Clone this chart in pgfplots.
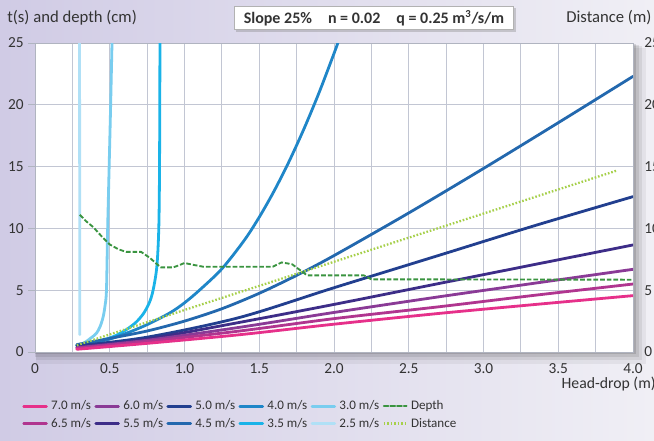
\documentclass[border=0pt]{standalone}
\usepackage{fontspec}
\setmainfont{Carlito}
\usepackage{pgfplots}
\pgfplotsset{compat=1.18}
\usetikzlibrary{shadows}
\definecolor{c70}{HTML}{E6308A}
\definecolor{c65}{HTML}{B0358F}
\definecolor{c60}{HTML}{8A3A96}
\definecolor{c55}{HTML}{3D2D88}
\definecolor{c50}{HTML}{223F8F}
\definecolor{c45}{HTML}{2368AE}
\definecolor{c40}{HTML}{1F86C8}
\definecolor{c35}{HTML}{1AB3E8}
\definecolor{c30}{HTML}{79CDEF}
\definecolor{c25}{HTML}{B0E0F6}
\definecolor{cdep}{HTML}{3A9440}
\definecolor{cdis}{HTML}{A6D04A}
\definecolor{bgL}{HTML}{D0CBE5}
\definecolor{bgR}{HTML}{F0EFF5}
\definecolor{gridc}{HTML}{C2C6D3}
\definecolor{axc}{HTML}{B0B4C0}
\definecolor{txt}{HTML}{333333}
\begin{document}
\begin{tikzpicture}
\path[use as bounding box, left color=bgL, right color=bgR] (-26.25pt,-66pt) rectangle (464.25pt,264pt);
\fill[black,opacity=0.05] (1pt,-9pt) rectangle (458pt,228pt);
\fill[black,opacity=0.07] (1pt,-6pt) rectangle (455.5pt,229.5pt);
\fill[black,opacity=0.09] (0pt,-3.5pt) rectangle (453pt,230.5pt);
\fill[black,opacity=0.12] (0pt,-1.5pt) rectangle (450.5pt,231pt);
\begin{axis}[
  at={(0pt,0pt)}, anchor=south west,
  scale only axis, width=448.5pt, height=231.75pt,
  xmin=0, xmax=4, ymin=0, ymax=25,
  axis background/.style={fill=white},
  xtick={0,0.5,...,4}, xticklabels={0,0.5,1.0,1.5,2.0,2.5,3.0,3.5,4.0},
  minor xtick={0.25,0.75,...,3.75},
  ytick={0,5,...,25},
  grid=both,
  major grid style={draw=gridc, line width=0.6pt},
  minor grid style={draw=gridc, line width=0.6pt},
  axis line style={draw=axc},
  tick align=outside, major tick length=5pt, minor tick length=0pt,
  x tick style={draw=none}, y tick style={draw=axc, line width=0.6pt},
  xtick pos=bottom, ytick pos=left,
  /pgf/number format/assume math mode=true,
  ticklabel style={font=\fontsize{11.5}{13}\selectfont, text=txt},
  legend columns=6,
  legend cell align=left,
  legend style={at={(-0.0217,-0.152)}, anchor=north west, draw=none, fill=none, inner sep=0pt,
    font=\fontsize{9.8}{11}\selectfont, text=txt,
    nodes={inner xsep=2.5pt, inner ysep=1pt},
    /tikz/every even column/.append style={column sep=0pt},
    /tikz/row sep=2.8pt},
  every axis plot/.append style={line width=2.1pt, line join=round, line cap=round},
]
\addlegendimage{c70, line width=2.1pt}\addlegendentry{7.0 m/s}
\addlegendimage{c60, line width=2.1pt}\addlegendentry{6.0 m/s}
\addlegendimage{c50, line width=2.1pt}\addlegendentry{5.0 m/s}
\addlegendimage{c40, line width=2.1pt}\addlegendentry{4.0 m/s}
\addlegendimage{c30, line width=2.1pt}\addlegendentry{3.0 m/s}
\addlegendimage{cdep, line width=1.4pt, dash pattern=on 3.5pt off 1.5pt}\addlegendentry{Depth}
\addlegendimage{c65, line width=2.1pt}\addlegendentry{6.5 m/s}
\addlegendimage{c55, line width=2.1pt}\addlegendentry{5.5 m/s}
\addlegendimage{c45, line width=2.1pt}\addlegendentry{4.5 m/s}
\addlegendimage{c35, line width=2.1pt}\addlegendentry{3.5 m/s}
\addlegendimage{c25, line width=2.1pt}\addlegendentry{2.5 m/s}
\addlegendimage{cdis, line width=1.7pt, dash pattern=on 1.2pt off 1.4pt, line cap=butt}\addlegendentry{Distance}

% 2.5 m/s
\addplot[c25, forget plot] coordinates {(0.30,1.4) (0.299,10) (0.298,25.5)};
% 3.0 m/s
\addplot[c30, smooth, forget plot] coordinates {(0.28,0.55) (0.33,0.75) (0.37,1.1) (0.41,1.5) (0.435,2.05) (0.455,2.8) (0.468,3.7) (0.478,5) (0.486,10) (0.496,15) (0.506,20) (0.516,25.5)};
% 3.5 m/s
\addplot[c35, smooth, forget plot] coordinates {(0.28,0.55) (0.37,0.72) (0.455,0.97) (0.535,1.3) (0.61,1.8) (0.675,2.4) (0.725,3.1) (0.765,4.0) (0.79,5.0) (0.815,6.9) (0.828,10) (0.833,15) (0.836,25.5)};
% 4.0 m/s
\addplot[c40, smooth, forget plot] coordinates {(0.28,0.55) (0.5,1.05) (0.72,2.05) (0.9,3.15) (1.0,3.98) (1.1,5.0) (1.25,6.73) (1.4,9.04) (1.5,10.91) (1.6,13.04) (1.7,15.43) (1.8,18.08) (1.9,20.98) (2.0,24.15) (2.03,25.15)};
% 4.5 m/s
\addplot[c45, smooth, forget plot] coordinates {(0.28,0.6) (0.5,1.1) (0.75,1.7) (1.0,2.5) (1.25,3.5) (1.5,4.75) (1.75,6.2) (2.0,7.8) (2.5,11.25) (3.0,14.85) (3.5,18.55) (4.0,22.3)};
% 5.0 m/s
\addplot[c50, smooth, forget plot] coordinates {(0.28,0.5) (0.75,1.2) (1.37,2.8) (2.0,5.2) (2.71,7.85) (3.35,10.25) (4.0,12.57)};
% 5.5 m/s
\addplot[c55, smooth, forget plot] coordinates {(0.28,0.4) (0.75,1.05) (1.37,2.4) (2.0,3.85) (2.71,5.56) (3.35,7.1) (4.0,8.66)};
% 6.0 m/s
\addplot[c60, smooth, forget plot] coordinates {(0.28,0.35) (0.75,0.95) (1.37,2.0) (2.0,3.2) (2.71,4.48) (3.35,5.58) (4.0,6.69)};
% 6.5 m/s
\addplot[c65, smooth, forget plot] coordinates {(0.28,0.3) (0.75,0.85) (1.37,1.7) (2.0,2.7) (2.71,3.67) (3.35,4.6) (4.0,5.5)};
% 7.0 m/s
\addplot[c70, smooth, forget plot] coordinates {(0.28,0.22) (0.75,0.7) (1.37,1.4) (2.0,2.25) (2.71,3.13) (3.35,3.85) (4.0,4.56)};
% Distance
\addplot[cdis, line width=1.7pt, dash pattern=on 1.2pt off 1.4pt, line cap=butt, forget plot] coordinates {(0.28,0.55) (1.0,3.4) (2.0,7.3) (3.0,11.2) (3.89,14.67)};
% Depth
\addplot[cdep, line width=1.4pt, dash pattern=on 3.5pt off 1.5pt, line cap=butt, forget plot] coordinates {(0.30,11.1) (0.34,10.6) (0.39,10.1) (0.45,9.3) (0.50,8.7) (0.56,8.3) (0.61,8.1) (0.71,8.1) (0.77,7.6) (0.84,6.85) (0.925,6.85) (0.96,7.0) (1.0,7.2) (1.06,7.05) (1.125,6.9) (1.59,6.9) (1.65,7.25) (1.72,7.1) (1.82,6.2) (2.2,6.2) (2.25,5.88) (4.0,5.85)};
\end{axis}
\begin{axis}[
  at={(0pt,0pt)}, anchor=south west,
  scale only axis, width=448.5pt, height=231.75pt,
  xmin=0, xmax=4, ymin=0, ymax=25,
  axis x line=none, axis y line*=right,
  y axis line style={draw=none},
  ytick={0,5,...,25}, ytick style={draw=none},
  tick align=outside, major tick length=5pt,
  /pgf/number format/assume math mode=true,
  ticklabel style={font=\fontsize{11.5}{13}\selectfont, text=txt},
]
\end{axis}
\node[anchor=west, text=txt, font=\fontsize{12.5}{14}\selectfont] at (-24.3pt,250.5pt) {t(s) and depth (cm)};
\node[anchor=west, text=txt, font=\fontsize{12.5}{14}\selectfont] at (395pt,250.5pt) {Distance (m)};
\node[anchor=east, text=txt, font=\fontsize{11.8}{14}\selectfont] at (469pt,-24pt) {Head-drop (m)};
\node[draw=gray!60, fill=white, drop shadow={opacity=0.35, shadow xshift=1.5pt, shadow yshift=-1.5pt}, text=txt, font=\bfseries\fontsize{12}{14}\selectfont, inner xsep=7pt, inner ysep=3pt] at (254.25pt,250.5pt) {Slope 25\%\quad n = 0.02\quad q = 0.25 m\textsuperscript{3}/s/m};
\end{tikzpicture}
\end{document}
